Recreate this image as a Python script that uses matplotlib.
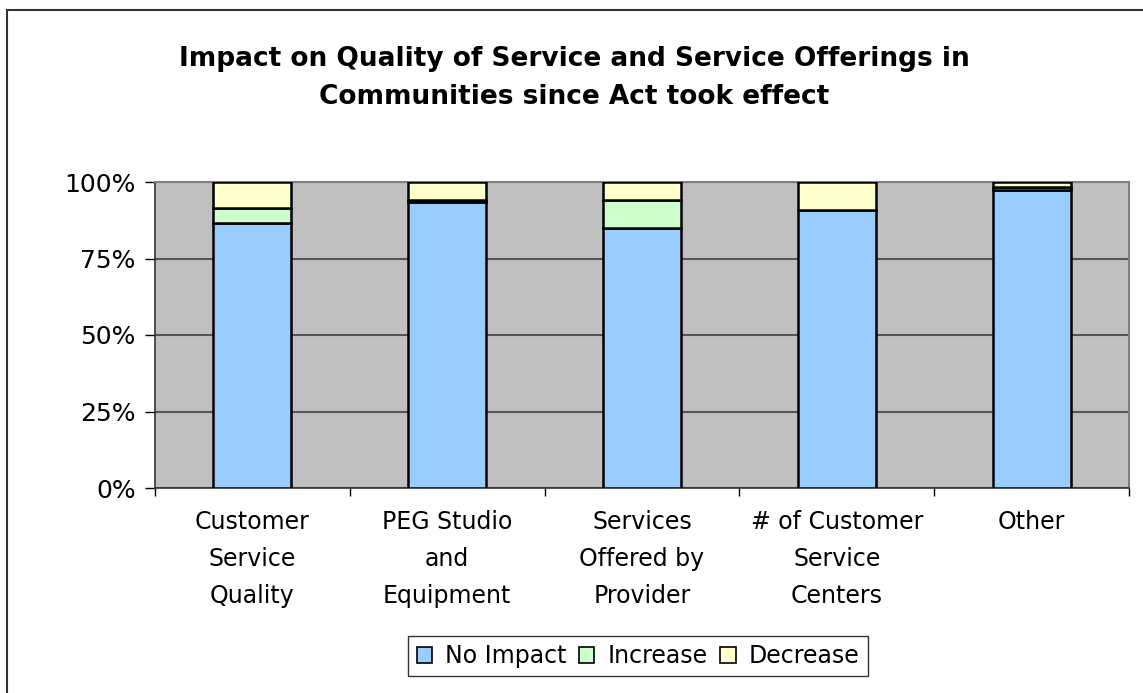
import matplotlib
matplotlib.use("Agg")
import matplotlib.pyplot as plt
from matplotlib.patches import Rectangle, Patch
import numpy as np

plt.rcParams['font.family'] = ['DejaVu Sans']

categories = ["Customer\nService\nQuality", "PEG Studio\nand\nEquipment",
              "Services\nOffered by\nProvider", "# of Customer\nService\nCenters", "Other"]
no_impact = [86.7, 93.4, 84.9, 90.8, 97.4]
increase = [4.8, 0.7, 9.1, 0.0, 0.9]
decrease = [8.5, 5.9, 6.0, 9.2, 1.7]
series_names = ["No Impact", "Increase", "Decrease"]
colors = ["#99CCFF", "#CCFFCC", "#FFFFCC"]
y_ticks = [0, 25, 50, 75, 100]
y_labels = ["0%", "25%", "50%", "75%", "100%"]

W, H = 1143, 693
fig = plt.figure(figsize=(W / 100, H / 100), dpi=100)

# outer chart frame
fig.patches.append(Rectangle((7 / W, -0.1), 1.2, 1 - 10 / H + 0.1, transform=fig.transFigure,
                             fill=False, edgecolor="#333333", linewidth=1.5, zorder=0))

ax = fig.add_axes([155 / W, 1 - 488 / H, (1129 - 155) / W, (488 - 182) / H])
ax.set_facecolor("#C0C0C0")

x = np.arange(len(categories))
bw = 0.4
bottoms = np.zeros(len(categories))
for vals, c, name in zip([no_impact, increase, decrease], colors, series_names):
    ax.bar(x, vals, bw, bottom=bottoms, color=c, edgecolor="black", linewidth=1.8,
           label=name, zorder=3)
    bottoms += np.array(vals)

ax.set_xlim(-0.5, len(categories) - 0.5)
ax.set_ylim(0, 100)
ax.set_yticks(y_ticks)
ax.set_yticklabels(y_labels, fontsize=18)
ax.yaxis.grid(True, color="#555555", linewidth=1.5, zorder=1)
ax.set_axisbelow(True)

ax.set_xticks(x)
ax.set_xticklabels(categories, fontsize=17, linespacing=1.68, va="top")
ax.set_xticks(np.arange(-0.5, len(categories)), minor=True)
ax.tick_params(axis="x", which="major", length=0, pad=16)
ax.tick_params(axis="x", which="minor", length=6, width=1, direction="out")
ax.tick_params(axis="y", length=7, width=1, direction="out", pad=7)

for s in ["top", "right"]:
    ax.spines[s].set_color("#808080")
    ax.spines[s].set_linewidth(1.5)
ax.spines["left"].set_color("#333333")
ax.spines["bottom"].set_color("#333333")
ax.spines["left"].set_linewidth(1.2)
ax.spines["bottom"].set_linewidth(1.2)

fig.text(574 / W, 1 - 78 / H,
         "Impact on Quality of Service and Service Offerings in\nCommunities since Act took effect",
         ha="center", va="center", fontsize=19, fontweight="bold", linespacing=1.65)

handles = [Patch(facecolor=c, edgecolor="black", linewidth=1.2) for c in colors]
leg = fig.legend(handles, series_names, loc="center", bbox_to_anchor=(638 / W, 1 - 656 / H),
                 ncol=3, fontsize=17, frameon=True, fancybox=False, handlelength=0.64,
                 handleheight=0.64, handletextpad=0.55, columnspacing=0.55, borderpad=0.35)
leg.get_frame().set_edgecolor("black")
leg.get_frame().set_linewidth(1)

fig.savefig("out.png", dpi=100)
